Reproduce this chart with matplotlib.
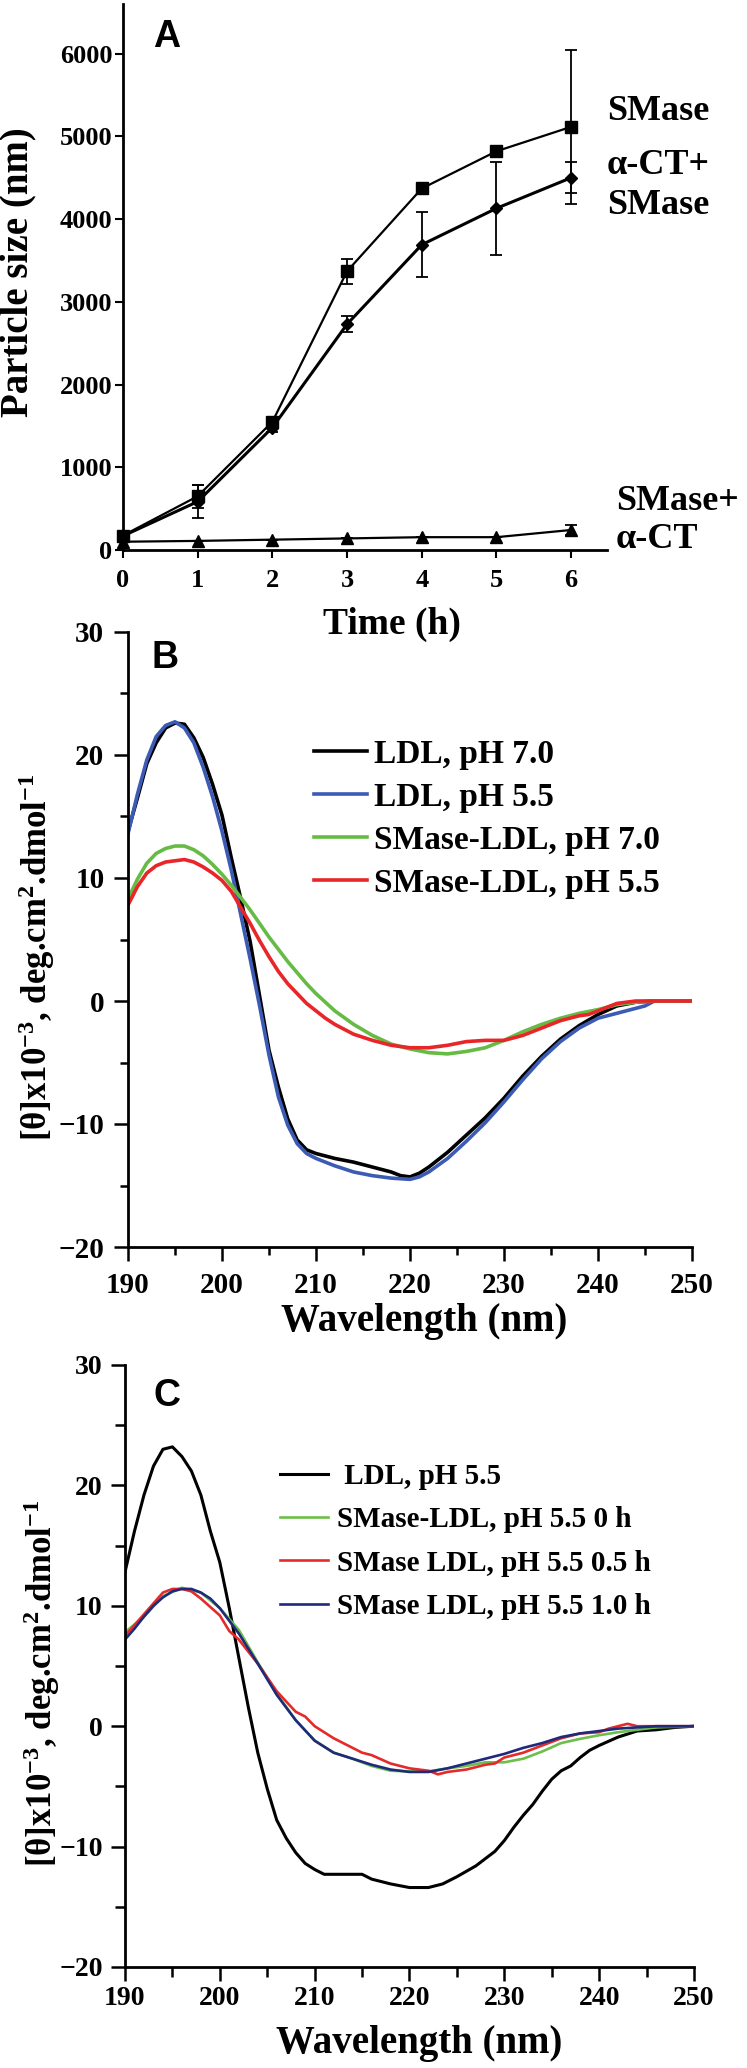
import matplotlib
matplotlib.use("Agg")
import matplotlib.pyplot as plt
from matplotlib.ticker import MultipleLocator

plt.rcParams["font.family"] = ["Liberation Serif", "DejaVu Serif"]
plt.rcParams["font.weight"] = "bold"
plt.rcParams["mathtext.fontset"] = "custom"
plt.rcParams["mathtext.rm"] = "Liberation Serif:bold"
plt.rcParams["mathtext.default"] = "rm"

W, H = 747, 2068

# --- Panel A: particle size vs time ---
time_h = [0, 1, 2, 3, 4, 5, 6]
smase = [175, 650, 1550, 3370, 4370, 4820, 5115]
smase_err = [0, 140, 50, 150, 0, 0, 930]
act_smase = [170, 585, 1480, 2730, 3690, 4130, 4500]
act_smase_err = [0, 200, 50, 95, 395, 560, 185]
smase_act = [100, 110, 125, 140, 155, 155, 242]
smase_act_err = [0, 0, 0, 0, 0, 0, 60]

# --- Panel B: CD spectra ---
wl_b1 = [190, 191, 192, 193, 194, 195, 196, 197, 198, 199, 200, 201, 202, 203, 204, 205,
         206, 207, 208, 209, 210, 211, 212, 214, 216, 218, 219, 220, 221, 222, 224, 226,
         228, 230, 232, 234, 236, 238, 240, 242, 244, 246, 248, 250]
ldl_70 = [13.8, 16.5, 19.3, 21.0, 22.2, 22.6, 22.5, 21.4, 19.8, 17.6, 15.1, 11.6, 8.3, 4.8, 0.4, -4.0,
          -7.0, -9.6, -11.3, -12.1, -12.4, -12.6, -12.8, -13.1, -13.5, -13.9, -14.2, -14.3, -14.0, -13.5, -12.3, -10.9,
          -9.5, -7.9, -6.1, -4.5, -3.1, -2.0, -1.1, -0.4, -0.1, 0.0, 0.0, 0.0]
wl_b2 = [190, 191, 192, 193, 194, 195, 196, 197, 198, 199, 200, 201, 202, 203, 204, 205,
         206, 207, 208, 209, 210, 211, 212, 214, 216, 218, 220, 221, 222, 224, 226, 228,
         230, 232, 234, 236, 238, 240, 242, 244, 245, 246, 248, 250]
ldl_55 = [13.6, 16.8, 19.6, 21.5, 22.4, 22.7, 22.2, 21.0, 19.0, 16.6, 13.8, 10.6, 7.0, 3.4, -0.4, -4.4,
          -7.8, -10.1, -11.6, -12.4, -12.8, -13.1, -13.4, -13.9, -14.2, -14.4, -14.5, -14.3, -13.9, -12.8, -11.4, -9.9,
          -8.2, -6.4, -4.7, -3.3, -2.2, -1.4, -1.0, -0.6, -0.4, 0.0, 0.0, 0.0]
wl_b3 = [190, 191, 192, 193, 194, 195, 196, 197, 198, 199, 200, 201, 202, 203, 204, 205,
         206, 207, 208, 209, 210, 211, 212, 214, 216, 218, 220, 222, 224, 226, 228, 230,
         232, 234, 236, 238, 240, 242, 244, 246, 250]
smldl_70 = [8.3, 9.9, 11.2, 12.0, 12.4, 12.6, 12.6, 12.3, 11.8, 11.1, 10.3, 9.4, 8.4, 7.4, 6.3, 5.2,
            4.2, 3.2, 2.3, 1.4, 0.6, -0.1, -0.8, -1.9, -2.8, -3.5, -3.9, -4.2, -4.3, -4.1, -3.8, -3.2,
            -2.5, -1.9, -1.4, -1.0, -0.7, -0.3, -0.1, 0.0, 0.0]
wl_b4 = [190, 191, 192, 193, 194, 195, 196, 197, 198, 199, 200, 201, 202, 203, 204, 205,
         206, 207, 208, 209, 210, 211, 212, 214, 216, 218, 220, 222, 224, 226, 228, 230,
         232, 234, 236, 238, 239, 240, 241, 242, 244, 246, 250]
smldl_55 = [7.8, 9.3, 10.4, 11.0, 11.3, 11.4, 11.5, 11.3, 10.9, 10.4, 9.8, 8.9, 7.6, 6.3, 4.9, 3.6,
            2.4, 1.4, 0.6, -0.2, -0.8, -1.4, -1.9, -2.7, -3.2, -3.6, -3.8, -3.8, -3.6, -3.3, -3.2, -3.2,
            -2.8, -2.2, -1.6, -1.2, -1.1, -0.8, -0.5, -0.2, 0.0, 0.0, 0.0]

# --- Panel C: CD spectra, time course ---
wl_c1 = [190, 191, 192, 193, 194, 195, 196, 197, 198, 199, 200, 201, 202, 203, 204, 205,
         206, 207, 208, 209, 210, 211, 215, 216, 218, 220, 222, 223.5, 225, 227, 229, 230,
         231, 232, 233, 234, 235, 236, 237, 238, 239, 240, 242, 244, 246, 248, 250]
c_ldl_55 = [12.8, 16.2, 19.2, 21.6, 23.0, 23.2, 22.4, 21.2, 19.2, 16.2, 13.6, 9.8, 5.7, 1.6, -2.2, -5.2,
            -7.8, -9.3, -10.5, -11.4, -11.9, -12.3, -12.3, -12.7, -13.1, -13.4, -13.4, -13.1, -12.5, -11.6, -10.4, -9.5,
            -8.4, -7.4, -6.5, -5.4, -4.4, -3.7, -3.3, -2.6, -2.0, -1.6, -0.9, -0.4, -0.3, -0.1, 0.0]
wl_c2 = [190, 192, 194, 196, 198, 200, 202, 204, 206, 208, 210, 212, 214, 216, 218, 220,
         222, 224, 226, 228, 230, 232, 234, 236, 238, 240, 242, 244, 246, 250]
c_sm_0h = [7.8, 9.1, 10.8, 11.5, 11.1, 9.8, 8.0, 5.3, 2.7, 0.5, -1.2, -2.2, -2.7, -3.3, -3.7, -3.75,
           -3.75, -3.5, -3.3, -3.0, -3.0, -2.7, -2.1, -1.4, -1.05, -0.75, -0.5, -0.3, -0.1, 0.0]
wl_c3 = [190, 192, 194, 195, 196, 197, 198, 200, 201, 202, 204, 206, 208, 209, 210, 212,
         214, 215, 216, 218, 220, 222, 223, 224, 226, 228, 229, 230, 232, 234, 236, 238,
         240, 241, 242, 243, 244, 246, 250]
c_sm_05h = [7.5, 9.3, 11.1, 11.4, 11.4, 11.2, 10.6, 9.2, 7.9, 7.2, 5.2, 2.9, 1.2, 0.8, 0.0, -1.0,
            -1.8, -2.2, -2.4, -3.1, -3.5, -3.7, -4.0, -3.8, -3.6, -3.2, -3.1, -2.6, -2.2, -1.6, -1.0, -0.6,
            -0.5, -0.2, 0.0, 0.2, 0.0, 0.0, 0.0]
wl_c4 = [190, 191, 192, 193, 194, 195, 196, 197, 198, 199, 200, 202, 204, 206, 208, 210,
         212, 214, 216, 218, 220, 222, 224, 226, 228, 230, 232, 234, 236, 238, 240, 242,
         244, 246, 250]
c_sm_1h = [7.2, 8.1, 9.1, 10.0, 10.7, 11.2, 11.4, 11.4, 11.1, 10.6, 9.8, 7.7, 5.2, 2.6, 0.5, -1.2,
           -2.2, -2.7, -3.2, -3.6, -3.8, -3.8, -3.5, -3.1, -2.7, -2.3, -1.8, -1.4, -0.9, -0.6, -0.4, -0.2,
           -0.1, 0.0, 0.0]

labels_b = ["LDL, pH 7.0", "LDL, pH 5.5", "SMase-LDL, pH 7.0", "SMase-LDL, pH 5.5"]
labels_c = [" LDL, pH 5.5", "SMase-LDL, pH 5.5 0 h", "SMase LDL, pH 5.5 0.5 h", "SMase LDL, pH 5.5 1.0 h"]


def fx(px):
    return px / W


def fy(py):
    return 1 - py / H


def box(left, top, right, bottom):
    return [fx(left), fy(bottom), fx(right) - fx(left), fy(top) - fy(bottom)]


def style_axes(ax, lw):
    ax.spines["top"].set_visible(False)
    ax.spines["right"].set_visible(False)
    ax.spines["left"].set_linewidth(lw)
    ax.spines["bottom"].set_linewidth(lw)


fig = plt.figure(figsize=(W / 100, H / 100), dpi=100)

# ---------- A ----------
axA = fig.add_axes(box(123, 4, 607, 550))
style_axes(axA, 2)
axA.errorbar(time_h, smase, yerr=smase_err, color="black", lw=1.6, marker="s", ms=8,
             capsize=4, elinewidth=1.3, capthick=1.3, clip_on=False, zorder=3)
axA.errorbar(time_h, act_smase, yerr=act_smase_err, color="black", lw=2.2, marker="D", ms=6.5,
             capsize=4, elinewidth=1.3, capthick=1.3, clip_on=False, zorder=3)
axA.errorbar(time_h, smase_act, yerr=smase_act_err, color="black", lw=1.6, marker="^", ms=8,
             capsize=4, elinewidth=1.3, capthick=1.3, clip_on=False, zorder=3)
axA.set_xlim(0, 6.48)
axA.set_ylim(0, 6600)
axA.set_xticks(range(0, 7))
axA.set_yticks(range(0, 6001, 1000))
axA.tick_params(axis="both", direction="out", length=6, width=1.5, labelsize=19)
axA.tick_params(axis="y", pad=1.5)
axA.tick_params(axis="x", pad=8)
fig.text(fx(392), fy(624), "Time (h)", ha="center", va="center", fontsize=27)
fig.text(fx(18), fy(272), "Particle size (nm)", ha="center", va="center", rotation=90, fontsize=28)
fig.text(fx(167), fy(37), "A", ha="center", va="center", fontsize=27,
         family="Liberation Sans", weight="bold")
fig.text(fx(607), fy(111), "SMase", ha="left", va="center", fontsize=26)
fig.text(fx(607), fy(166), "α-CT+", ha="left", va="center", fontsize=26)
fig.text(fx(607), fy(205), "SMase", ha="left", va="center", fontsize=26)
fig.text(fx(616), fy(502), "SMase+", ha="left", va="center", fontsize=26)
fig.text(fx(616), fy(540), "α-CT", ha="left", va="center", fontsize=26)

ylab = "[θ]x10$^{-3}$, deg.cm$^{2}$.dmol$^{-1}$"

# ---------- B ----------
axB = fig.add_axes(box(128, 632, 692, 1247))
style_axes(axB, 2)
axB.plot(wl_b1, ldl_70, color="black", lw=2.6, label=labels_b[0])
axB.plot(wl_b2, ldl_55, color="#3b5bb5", lw=2.6, label=labels_b[1])
axB.plot(wl_b3, smldl_70, color="#66bb45", lw=2.6, label=labels_b[2])
axB.plot(wl_b4, smldl_55, color="#e8262a", lw=2.6, label=labels_b[3])
axB.set_xlim(190, 250)
axB.set_ylim(-20, 30)
axB.xaxis.set_major_locator(MultipleLocator(10))
axB.xaxis.set_minor_locator(MultipleLocator(5))
axB.yaxis.set_major_locator(MultipleLocator(10))
axB.yaxis.set_minor_locator(MultipleLocator(5))
axB.tick_params(which="major", direction="out", length=10, width=1.8, labelsize=21)
axB.tick_params(which="minor", direction="out", length=6, width=1.8)
axB.tick_params(axis="y", which="major", pad=7)
axB.tick_params(axis="x", which="major", pad=8)
axB.legend(loc="upper left", bbox_to_anchor=(fx(314), fy(739)), bbox_transform=fig.transFigure,
           frameon=False, fontsize=24, handlelength=1.6, handletextpad=0.2,
           labelspacing=0.36, borderpad=0, borderaxespad=0)
fig.text(fx(424), fy(1322), "Wavelength (nm)", ha="center", va="center", fontsize=28)
fig.text(fx(37), fy(957), ylab, ha="center", va="center", rotation=90, fontsize=25)
fig.text(fx(165), fy(658), "B", ha="center", va="center", fontsize=27,
         family="Liberation Sans", weight="bold")

# ---------- C ----------
axC = fig.add_axes(box(125, 1365, 694, 1967))
style_axes(axC, 2)
axC.plot(wl_c1, c_ldl_55, color="black", lw=2.2, label=labels_c[0])
axC.plot(wl_c2, c_sm_0h, color="#6cbf4a", lw=1.9, label=labels_c[1])
axC.plot(wl_c3, c_sm_05h, color="#e52a2a", lw=1.9, label=labels_c[2])
axC.plot(wl_c4, c_sm_1h, color="#1f2a7a", lw=1.9, label=labels_c[3])
axC.set_xlim(190, 250)
axC.set_ylim(-20, 30)
axC.xaxis.set_major_locator(MultipleLocator(10))
axC.xaxis.set_minor_locator(MultipleLocator(5))
axC.yaxis.set_major_locator(MultipleLocator(10))
axC.yaxis.set_minor_locator(MultipleLocator(5))
axC.tick_params(which="major", direction="out", length=10, width=1.8, labelsize=20)
axC.tick_params(which="minor", direction="out", length=7, width=1.8)
axC.tick_params(axis="y", which="major", pad=6)
axC.tick_params(axis="x", which="major", pad=4)
axC.legend(loc="upper left", bbox_to_anchor=(fx(280), fy(1463)), bbox_transform=fig.transFigure,
           frameon=False, fontsize=21, handlelength=1.65, handletextpad=0.3,
           labelspacing=0.56, borderpad=0, borderaxespad=0)
fig.text(fx(419), fy(2043), "Wavelength (nm)", ha="center", va="center", fontsize=28)
fig.text(fx(42), fy(1683), ylab, ha="center", va="center", rotation=90, fontsize=25)
fig.text(fx(167), fy(1396), "C", ha="center", va="center", fontsize=27,
         family="Liberation Sans", weight="bold")

fig.savefig("out.png", dpi=100)
